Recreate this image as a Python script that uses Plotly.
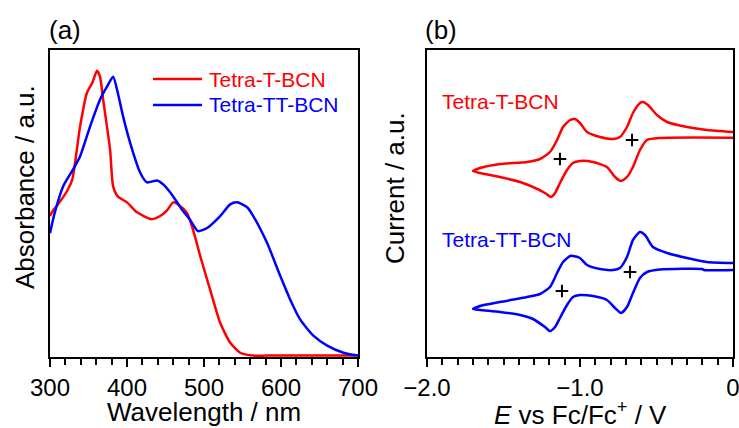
import plotly.graph_objects as go

# ---------------- (a) UV-vis absorption spectra (normalised) ----------------
wl_t = [300, 304, 310, 322, 329, 339, 348, 355, 361, 365, 369, 378, 382, 388,
        400, 413, 432, 443, 452, 460, 471, 478, 486, 495, 508, 521, 534, 547,
        564, 580, 600, 650, 700]
abs_t = [0.49, 0.51, 0.53, 0.577, 0.619, 0.804, 0.923, 0.958, 1.0, 0.979, 0.899,
         0.724, 0.594, 0.559, 0.538, 0.503, 0.479, 0.490, 0.510, 0.538, 0.521,
         0.500, 0.44, 0.35, 0.231, 0.115, 0.045, 0.01, 0.0, 0.0, 0.0, 0.0, 0.0]

wl_tt = [300, 306, 317, 330, 339, 352, 365, 374, 382, 388, 395, 404, 417, 426,
         439, 447, 460, 471, 482, 492, 504, 521, 534, 543, 556, 564, 582, 599,
         612, 625, 642, 660, 681, 700]
abs_tt = [0.43, 0.50, 0.594, 0.654, 0.699, 0.804, 0.899, 0.944, 0.979, 0.923,
          0.839, 0.748, 0.643, 0.608, 0.615, 0.601, 0.559, 0.514, 0.476, 0.437,
          0.448, 0.490, 0.531, 0.538, 0.521, 0.490, 0.395, 0.28, 0.196, 0.126,
          0.07, 0.035, 0.01, 0.0]

# ---------------- (b) cyclic voltammograms (offset, a.u.) ----------------
e_t = [0.0, -0.477, -0.562, -0.608, -0.654, -0.693, -0.732, -0.771, -0.824,
       -0.915, -1.0, -1.046, -1.085, -1.131, -1.163, -1.190, -1.229, -1.307,
       -1.392, -1.523, -1.654, -1.699,
       -1.654, -1.523, -1.346, -1.261, -1.196, -1.150, -1.111, -1.065, -1.033,
       -1.0, -0.954, -0.869, -0.784, -0.739, -0.693, -0.654, -0.608, -0.588,
       -0.556, -0.497, -0.431, -0.301, -0.170, 0.0]
i_t = [2.193, 2.19, 2.17, 2.07, 1.90, 1.80, 1.76, 1.80, 1.90, 1.95, 1.96, 1.94,
       1.87, 1.74, 1.64, 1.60, 1.64, 1.70, 1.75, 1.80, 1.84, 1.86,
       1.89, 1.93, 1.95, 1.98, 2.05, 2.17, 2.30, 2.37, 2.38, 2.34, 2.25, 2.20,
       2.18, 2.20, 2.30, 2.44, 2.54, 2.55, 2.52, 2.42, 2.35, 2.30, 2.27, 2.25]

e_tt = [0.0, -0.19, -0.20, -0.477, -0.562, -0.608, -0.654, -0.693, -0.732,
        -0.771, -0.824, -0.915, -1.0, -1.046, -1.085, -1.131, -1.163, -1.196,
        -1.229, -1.307, -1.392, -1.523, -1.654, -1.699,
        -1.654, -1.523, -1.346, -1.261, -1.196, -1.150, -1.111, -1.065, -1.046,
        -1.0, -0.954, -0.869, -0.784, -0.739, -0.693, -0.654, -0.608, -0.575,
        -0.523, -0.431, -0.301, -0.170, 0.0]
i_tt = [0.87, 0.87, 0.88, 0.875, 0.85, 0.79, 0.64, 0.50, 0.44, 0.49, 0.57, 0.61,
        0.62, 0.60, 0.52, 0.39, 0.30, 0.26, 0.30, 0.38, 0.42, 0.45, 0.47, 0.48,
        0.51, 0.55, 0.60, 0.63, 0.70, 0.84, 0.95, 1.01, 1.01, 0.99, 0.92, 0.88,
        0.87, 0.89, 1.00, 1.17, 1.25, 1.22, 1.10, 1.04, 0.99, 0.95, 0.94]

# half-wave potentials marked with "+"
half_e = [-1.131, -0.660, -1.118, -0.673]
half_i = [1.98, 2.17, 0.66, 0.85]

wl_ticks = [300, 400, 500, 600, 700]
wl_ticktext = ["300", "400", "500", "600", "700"]
e_ticks = [-2.0, -1.0, 0.0]
e_ticktext = ["\u22122.0", "\u22121.0", "0"]

RED = "#ff0000"
BLUE = "#0000ff"
FONT = "Liberation Sans, Arial, sans-serif"

W, H = 739, 428


def px(x):
    return x / W


def py(y):
    return 1 - y / H


fig = go.Figure()

fig.add_trace(go.Scatter(x=wl_t, y=abs_t, mode="lines", xaxis="x", yaxis="y",
                         line=dict(color=RED, width=2.5, shape="spline", smoothing=0.6)))
fig.add_trace(go.Scatter(x=wl_tt, y=abs_tt, mode="lines", xaxis="x", yaxis="y",
                         line=dict(color=BLUE, width=2.5, shape="spline", smoothing=0.6)))

fig.add_trace(go.Scatter(x=e_t, y=i_t, mode="lines", xaxis="x2", yaxis="y2",
                         line=dict(color=RED, width=2.5, shape="spline", smoothing=0.6)))
fig.add_trace(go.Scatter(x=e_tt, y=i_tt, mode="lines", xaxis="x2", yaxis="y2",
                         line=dict(color=BLUE, width=2.5, shape="spline", smoothing=0.6)))
fig.add_trace(go.Scatter(x=half_e, y=half_i, mode="markers", xaxis="x2", yaxis="y2",
                         marker=dict(symbol="cross-thin", size=9, color="black",
                                     line=dict(color="black", width=2))))

common_x = dict(showline=True, linecolor="black", linewidth=2, mirror=True,
                ticks="outside", ticklen=8, tickwidth=2, tickcolor="black",
                showgrid=False, zeroline=False, automargin=False,
                ticklabeloverflow="allow",
                tickfont=dict(family=FONT, size=24, color="black"))
common_y = dict(showline=True, linecolor="black", linewidth=2, mirror=True,
                ticks="", showticklabels=False, showgrid=False, zeroline=False,
                automargin=False)

ydom = [py(357), py(50)]

fig.update_layout(
    width=W, height=H,
    autosize=False,
    margin=dict(l=0, r=0, t=0, b=0, pad=0, autoexpand=False),
    paper_bgcolor="white", plot_bgcolor="white",
    showlegend=False,
    font=dict(family=FONT, color="black"),
    xaxis=dict(domain=[px(50), px(358)], range=[300, 700], anchor="y",
               tickvals=wl_ticks, ticktext=wl_ticktext,
               minor=dict(dtick=20, ticks="outside", ticklen=6, tickwidth=2,
                          tickcolor="black", showgrid=False),
               **common_x),
    yaxis=dict(domain=ydom, range=[-0.005, 1.073], anchor="x", **common_y),
    xaxis2=dict(domain=[px(427), px(733)], range=[-2.0, 0.0], anchor="y2",
                tickvals=e_ticks, ticktext=e_ticktext,
                minor=dict(dtick=0.1, tick0=0, ticks="outside", ticklen=6, tickwidth=2,
                           tickcolor="black", showgrid=False),
                **common_x),
    yaxis2=dict(domain=ydom, range=[0, 3.07], anchor="x2", **common_y),
)

annos = [
    # panel letters
    dict(x=px(47), y=py(30), text="(a)", xanchor="left", size=26, color="black"),
    dict(x=px(423), y=py(30), text="(b)", xanchor="left", size=26, color="black"),
    # axis titles
    dict(x=px(204), y=py(412), text="Wavelength / nm", xanchor="center", size=26, color="black"),
    dict(x=px(580), y=py(413), text="<i>E</i> vs Fc/Fc<sup>+</sup> / V",
         xanchor="center", size=26, color="black"),
    # legend text and curve labels
    dict(x=px(207), y=py(79), text="Tetra-T-BCN", xanchor="left", size=21, color=RED),
    dict(x=px(207), y=py(105), text="Tetra-TT-BCN", xanchor="left", size=21, color=BLUE),
    dict(x=px(440), y=py(102), text="Tetra-T-BCN", xanchor="left", size=21, color=RED),
    dict(x=px(440), y=py(239), text="Tetra-TT-BCN", xanchor="left", size=21, color=BLUE),
]
for a in annos:
    fig.add_annotation(x=a["x"], y=a["y"], xref="paper", yref="paper", text=a["text"],
                       showarrow=False, xanchor=a["xanchor"], yanchor="middle",
                       font=dict(family=FONT, size=a["size"], color=a["color"]))

# rotated y-axis titles
for xc, yc, txt in [(25, 187, "Absorbance / a.u."), (395, 188, "Current / a.u.")]:
    fig.add_annotation(x=px(xc), y=py(yc), xref="paper", yref="paper", text=txt,
                       showarrow=False, textangle=-90, xanchor="center", yanchor="middle",
                       font=dict(family=FONT, size=26, color="black"))

# legend line samples
for yy, col in [(79, RED), (105, BLUE)]:
    fig.add_shape(type="line", xref="paper", yref="paper",
                  x0=px(153), x1=px(202), y0=py(yy), y1=py(yy),
                  line=dict(color=col, width=2.5))

fig.write_html("out.html")
